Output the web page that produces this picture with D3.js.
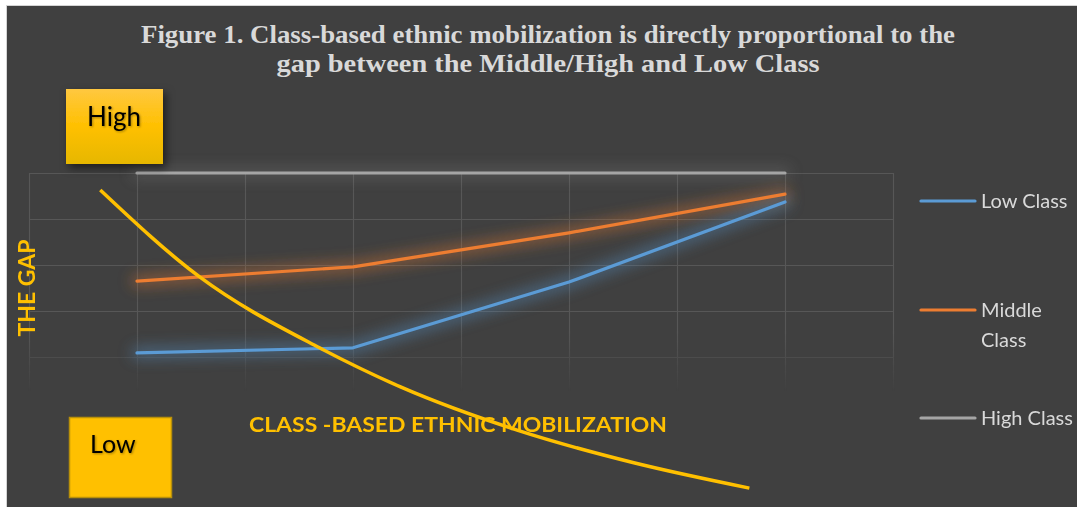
<!DOCTYPE html>
<html>
<head>
<meta charset="utf-8">
<script src="https://cdn.jsdelivr.net/npm/d3@7"></script>
<style>
  body { margin: 0; background: #fff; }
  svg { display: block; }
</style>
</head>
<body>
<div id="chart"></div>
<script>
// data
var categories = ['1', '2', '3', '4'];
var lowClass = [1.09, 1.2, 2.63, 4.37];
var middleClass = [2.65, 2.96, 3.7, 4.54];
var highClass = [5, 5, 5, 5];
var seriesNames = ['Low Class', 'Middle Class', 'High Class'];
// the free-hand yellow curve, in plot units
var curveX = [0.66, 1.58, 2.69, 3.44, 4.52, 5.6, 6.67];
var curveY = [4.63, 2.74, 1.2, 0.35, -0.59, -1.3, -1.85];
var yTicks = [0, 1, 2, 3, 4, 5];

chart_width = 1077
chart_height = 507

var svg = d3.select('#chart')
  .append('svg')
  .attr('width', chart_width)
  .attr('height', chart_height)

// plot area
var plotLeft = 29, plotRight = 893, plotTop = 173, plotBottom = 403;

var x = d3.scalePoint()
  .domain(categories)
  .range([plotLeft, plotRight])
  .padding(0.5);

var xGrid = d3.scaleLinear().domain([0, 8]).range([plotLeft, plotRight]);

var y = d3.scaleLinear()
  .domain([0, 5])
  .range([plotBottom, plotTop]);

var defs = svg.append('defs');

// fade for the lower part of the grid
var fade = defs.append('linearGradient')
  .attr('id', 'fade')
  .attr('gradientUnits', 'userSpaceOnUse')
  .attr('x1', 0).attr('x2', 0).attr('y1', 330).attr('y2', 392);
fade.append('stop').attr('offset', 0).attr('stop-color', '#fff');
fade.append('stop').attr('offset', 1).attr('stop-color', '#000');
defs.append('mask').attr('id', 'gridMask')
  .attr('maskUnits', 'userSpaceOnUse')
  .attr('x', 0).attr('y', 0).attr('width', chart_width).attr('height', chart_height)
  .append('rect')
  .attr('x', 0).attr('y', 0).attr('width', chart_width).attr('height', chart_height)
  .attr('fill', 'url(#fade)');

// glow behind the lines
var glow = defs.append('filter').attr('id', 'glow')
  .attr('filterUnits', 'userSpaceOnUse')
  .attr('x', 0).attr('y', 100).attr('width', chart_width).attr('height', 350);
glow.append('feGaussianBlur').attr('stdDeviation', 7);

var shadow = defs.append('filter').attr('id', 'shadow')
  .attr('x', '-30%').attr('y', '-30%').attr('width', '160%').attr('height', '160%');
shadow.append('feDropShadow')
  .attr('dx', 3).attr('dy', 4).attr('stdDeviation', 4)
  .attr('flood-color', '#000').attr('flood-opacity', 0.55);

var textShadow = defs.append('filter').attr('id', 'textShadow');
textShadow.append('feDropShadow')
  .attr('dx', 1).attr('dy', 1).attr('stdDeviation', 1)
  .attr('flood-color', '#000').attr('flood-opacity', 0.35);

var highGrad = defs.append('linearGradient')
  .attr('id', 'highGrad')
  .attr('x1', 0).attr('x2', 0).attr('y1', 0).attr('y2', 1);
highGrad.append('stop').attr('offset', 0).attr('stop-color', '#ffc840');
highGrad.append('stop').attr('offset', 0.5).attr('stop-color', '#ffc000');
highGrad.append('stop').attr('offset', 1).attr('stop-color', '#e6b700');

// background panel
svg.append('rect')
  .attr('x', 6.5).attr('y', 5.5)
  .attr('width', chart_width).attr('height', chart_height)
  .attr('fill', '#404040')
  .attr('stroke', '#d4d4d4')
  .attr('stroke-width', 1);

// title
var titleLines = [
  'Figure 1. Class-based ethnic mobilization is directly proportional to the',
  'gap between the Middle/High and Low Class'
];
var titleWidths = [814, 543];
svg.selectAll('.title')
  .data(titleLines)
  .enter()
  .append('text')
  .attr('class', 'title')
  .attr('x', 548)
  .attr('y', function(d, i) { return 43 + i * 29; })
  .attr('text-anchor', 'middle')
  .attr('fill', '#d9d9d9')
  .attr('font-family', '"Liberation Serif", "Times New Roman", serif')
  .attr('font-weight', 'bold')
  .attr('font-size', 25)
  .attr('textLength', function(d, i) { return titleWidths[i]; })
  .attr('lengthAdjust', 'spacingAndGlyphs')
  .text(function(d) { return d; });

// grid
var grid = svg.append('g').attr('mask', 'url(#gridMask)');

grid.append('g')
  .attr('transform', 'translate(' + plotLeft + ',0)')
  .call(d3.axisLeft(y).tickValues(yTicks).tickSize(-(plotRight - plotLeft)).tickFormat(''))
  .call(g => g.select('.domain').remove())
  .call(g => g.selectAll('line').attr('stroke', '#575757').attr('stroke-width', 1.2));

grid.append('g')
  .attr('transform', 'translate(0,' + plotBottom + ')')
  .call(d3.axisBottom(xGrid).ticks(8).tickSize(-(plotBottom - plotTop)).tickFormat(''))
  .call(g => g.select('.domain').remove())
  .call(g => g.selectAll('line').attr('stroke', '#575757').attr('stroke-width', 1.2));

// series lines
var series = [
  { name: seriesNames[0], values: lowClass, color: '#5b9bd5' },
  { name: seriesNames[1], values: middleClass, color: '#ed7d31' },
  { name: seriesNames[2], values: highClass, color: '#a5a5a5' }
];

var line = d3.line()
  .x(function(d, i) { return x(categories[i]); })
  .y(function(d) { return y(d); });

var drawOrder = [series[2], series[1], series[0]];

svg.selectAll('.glow')
  .data(drawOrder)
  .enter()
  .append('path')
  .attr('class', 'glow')
  .attr('d', function(d) { return line(d.values); })
  .attr('fill', 'none')
  .attr('stroke', function(d) { return d.color; })
  .attr('stroke-width', 12)
  .attr('stroke-linecap', 'round')
  .attr('stroke-opacity', function(d) { return d.name == 'High Class' ? 0.2 : 0.4; })
  .attr('filter', 'url(#glow)');

svg.selectAll('.series')
  .data(drawOrder)
  .enter()
  .append('path')
  .attr('class', 'series')
  .attr('d', function(d) { return line(d.values); })
  .attr('fill', 'none')
  .attr('stroke', function(d) { return d.color; })
  .attr('stroke-width', 3.2)
  .attr('stroke-linecap', 'round')
  .attr('stroke-linejoin', 'round');

// legend
var legendY = [201, 310, 418];
var legend = svg.selectAll('.legend')
  .data(series)
  .enter()
  .append('g')
  .attr('class', 'legend')
  .attr('transform', function(d, i) { return 'translate(921,' + legendY[i] + ')'; });

legend.append('line')
  .attr('x1', 0).attr('x2', 54)
  .attr('stroke', function(d) { return d.color; })
  .attr('stroke-width', 3.2)
  .attr('stroke-linecap', 'round');

legend.append('text')
  .attr('x', 60)
  .attr('fill', '#d9d9d9')
  .attr('font-family', 'Lato, "Open Sans", sans-serif')
  .attr('font-size', 20)
  .each(function(d) {
    var t = d3.select(this);
    if (d.name == 'Middle Class') {
      t.append('tspan').attr('x', 60).attr('y', 7).text('Middle');
      t.append('tspan').attr('x', 60).attr('y', 37).text('Class');
    } else {
      t.attr('y', 7).text(d.name);
    }
  });

// yellow curve
svg.append('path')
  .datum(curveX.map(function(v, i) { return [v, curveY[i]]; }))
  .attr('d', d3.line()
    .x(function(d) { return xGrid(d[0]); })
    .y(function(d) { return y(d[1]); })
    .curve(d3.curveMonotoneX))
  .attr('fill', 'none')
  .attr('stroke', '#ffc000')
  .attr('stroke-width', 3.5);

// axis labels
svg.append('text')
  .attr('transform', 'translate(35,288) rotate(-90)')
  .attr('text-anchor', 'middle')
  .attr('fill', '#ffc000')
  .attr('font-family', 'Lato, "Open Sans", sans-serif')
  .attr('font-weight', 'bold')
  .attr('font-size', 23)
  .attr('textLength', 97)
  .attr('lengthAdjust', 'spacingAndGlyphs')
  .text('THE GAP');

svg.append('text')
  .attr('x', 249)
  .attr('y', 432)
  .attr('fill', '#ffc000')
  .attr('font-family', 'Lato, "Open Sans", sans-serif')
  .attr('font-weight', 'bold')
  .attr('font-size', 21)
  .attr('textLength', 418)
  .attr('lengthAdjust', 'spacingAndGlyphs')
  .text('CLASS -BASED ETHNIC MOBILIZATION');

// High / Low boxes
svg.append('rect')
  .attr('x', 66).attr('y', 89)
  .attr('width', 97).attr('height', 75)
  .attr('fill', 'url(#highGrad)')
  .attr('filter', 'url(#shadow)');

svg.append('text')
  .attr('x', 87).attr('y', 126)
  .attr('fill', '#000')
  .attr('font-family', 'Lato, "Open Sans", sans-serif')
  .attr('font-size', 26)
  .attr('filter', 'url(#textShadow)')
  .text('High');

svg.append('rect')
  .attr('x', 69.5).attr('y', 417.5)
  .attr('width', 102).attr('height', 80)
  .attr('fill', '#ffc000')
  .attr('stroke', '#b8900a')
  .attr('stroke-width', 1.5);

svg.append('text')
  .attr('x', 90).attr('y', 453)
  .attr('fill', '#000')
  .attr('font-family', 'Lato, "Open Sans", sans-serif')
  .attr('font-size', 25)
  .attr('filter', 'url(#textShadow)')
  .text('Low');
</script>
</body>
</html>
